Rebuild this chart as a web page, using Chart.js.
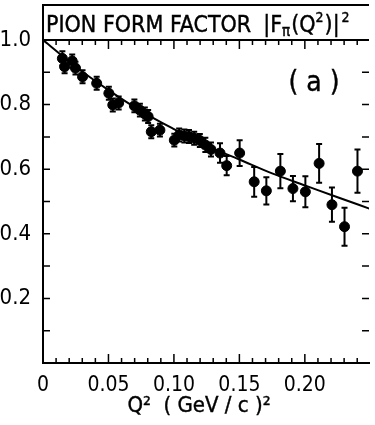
<!DOCTYPE html>
<html>
<head>
<meta charset="utf-8">
<script src="https://cdn.jsdelivr.net/npm/chart.js@4.4.1/dist/chart.umd.min.js"></script>
<style>
  body { margin: 0; background: #fff; }
  canvas { display: block; }
</style>
</head>
<body>
<canvas id="chart" width="375" height="425"></canvas>
<script>
const q2 = [0.0148, 0.0165, 0.0223, 0.0248, 0.0302, 0.041, 0.0503, 0.0533, 0.0578,
  0.0698, 0.074, 0.0778, 0.0803, 0.0827, 0.0893, 0.1003, 0.104, 0.108, 0.1115,
  0.1155, 0.1198, 0.124, 0.1283, 0.1352, 0.1403, 0.1502, 0.1613, 0.1706, 0.1813,
  0.1909, 0.2004, 0.2109, 0.2207, 0.2303, 0.2402];
const ff = [0.943, 0.917, 0.935, 0.913, 0.886, 0.866, 0.835, 0.799, 0.805,
  0.796, 0.783, 0.771, 0.763, 0.716, 0.721, 0.69, 0.706, 0.703, 0.701,
  0.696, 0.689, 0.675, 0.661, 0.65, 0.611, 0.65, 0.561, 0.533, 0.594,
  0.54, 0.53, 0.618, 0.49, 0.422, 0.594];
const ffErr = [0.022, 0.02, 0.02, 0.02, 0.02, 0.02, 0.02, 0.02, 0.02,
  0.02, 0.02, 0.02, 0.02, 0.02, 0.02, 0.02, 0.02, 0.02, 0.02,
  0.02, 0.02, 0.022, 0.022, 0.03, 0.03, 0.04, 0.046, 0.042, 0.053,
  0.039, 0.048, 0.06, 0.053, 0.059, 0.067];

// fitted curve
const fitQ2 = [0, 0.025, 0.05, 0.075, 0.1, 0.125, 0.15, 0.175, 0.2, 0.225, 0.25];
const fitFF = [1.0, 0.917, 0.845, 0.78, 0.724, 0.672, 0.63, 0.587, 0.55, 0.513, 0.477];

const xTicks = [0, 0.05, 0.1, 0.15, 0.2];
const yTicks = [0.2, 0.4, 0.6, 0.8, 1.0];

const FONT = "'DejaVu Sans Condensed', 'DejaVu Sans', sans-serif";

const errorBars = {
  id: 'errorBars',
  afterDatasetsDraw(chart) {
    const ctx = chart.ctx;
    const y = chart.scales.y;
    const meta = chart.getDatasetMeta(1);
    ctx.save();
    ctx.strokeStyle = '#000';
    ctx.lineWidth = 2;
    meta.data.forEach((pt, i) => {
      const top = y.getPixelForValue(ff[i] + ffErr[i]);
      const bot = y.getPixelForValue(ff[i] - ffErr[i]);
      ctx.beginPath();
      ctx.moveTo(pt.x, top);
      ctx.lineTo(pt.x, bot);
      ctx.moveTo(pt.x - 3, top);
      ctx.lineTo(pt.x + 3, top);
      ctx.moveTo(pt.x - 3, bot);
      ctx.lineTo(pt.x + 3, bot);
      ctx.stroke();
    });
    ctx.restore();
  }
};

const frame = {
  id: 'frame',
  afterDraw(chart) {
    const ctx = chart.ctx;
    const a = chart.chartArea;
    const x = chart.scales.x;
    const y = chart.scales.y;
    ctx.save();
    ctx.strokeStyle = '#000';
    ctx.lineWidth = 2;
    // top axis + title box
    ctx.beginPath();
    ctx.moveTo(a.left, a.top);
    ctx.lineTo(a.right, a.top);
    ctx.moveTo(a.left, a.top);
    ctx.lineTo(a.left, 5);
    ctx.lineTo(a.right, 5);
    ctx.stroke();

    // inward ticks
    ctx.lineWidth = 1.5;
    ctx.beginPath();
    for (let i = 0; i <= 25; i++) {
      const px = x.getPixelForValue(i / 100);
      if (px > a.right) continue;
      const len = i % 5 === 0 ? 9 : 5;
      ctx.moveTo(px, a.bottom);
      ctx.lineTo(px, a.bottom - len);
      ctx.moveTo(px, a.top);
      ctx.lineTo(px, a.top + len);
    }
    for (let i = 1; i < 10; i++) {
      const py = y.getPixelForValue(i / 10);
      ctx.moveTo(a.left, py);
      ctx.lineTo(a.left + 7, py);
      ctx.moveTo(a.right, py);
      ctx.lineTo(a.right - 7, py);
    }
    ctx.stroke();

    // title in box
    ctx.fillStyle = '#000';
    ctx.strokeStyle = '#000';
    ctx.lineWidth = 0.4;
    ctx.textBaseline = 'alphabetic';
    ctx.textAlign = 'left';
    let tx = 46;
    const parts = [
      ['PION FORM FACTOR', 23, 32, 12],
      ['|F', 23, 32, 0],
      ['\u03c0', 15, 36, 1],
      ['(Q', 23, 32, 0],
      ['2', 14, 22, 1],
      [')|', 23, 32, 2],
      ['2', 14, 22, 0]
    ];
    parts.forEach(p => {
      ctx.font = p[1] + 'px ' + FONT;
      ctx.fillText(p[0], tx, p[2]);
      ctx.strokeText(p[0], tx, p[2]);
      tx += ctx.measureText(p[0]).width + p[3];
    });

    // panel label
    ctx.font = '28px ' + FONT;
    ctx.textAlign = 'center';
    ctx.fillText('( a )', 314, 91);
    ctx.strokeText('( a )', 314, 91);

    // x axis title
    ctx.font = '22px ' + FONT;
    ctx.fillText('Q\u00b2  ( GeV / c )\u00b2', 199, 412);
    ctx.strokeText('Q\u00b2  ( GeV / c )\u00b2', 199, 412);
    ctx.restore();
  }
};

new Chart(document.getElementById('chart'), {
  type: 'scatter',
  data: {
    datasets: [
      {
        type: 'line',
        data: fitQ2.map((v, i) => ({x: v, y: fitFF[i]})),
        borderColor: '#000',
        borderWidth: 2,
        pointRadius: 0,
        cubicInterpolationMode: 'monotone',
        fill: false
      },
      {
        data: q2.map((v, i) => ({x: v, y: ff[i]})),
        backgroundColor: '#000',
        borderColor: '#000',
        pointRadius: 5
      }
    ]
  },
  options: {
    responsive: false,
    animation: false,
    layout: {padding: {top: 40, right: 0, left: 0, bottom: 0}},
    plugins: {legend: {display: false}, tooltip: {enabled: false}},
    scales: {
      x: {
        type: 'linear',
        min: 0,
        max: 0.249,
        afterBuildTicks: s => { s.ticks = xTicks.map(v => ({value: v})); },
        afterFit: s => { s.height = 62; },
        grid: {display: false},
        border: {color: '#000', width: 2},
        ticks: {
          color: '#000',
          font: {family: FONT, size: 21},
          padding: 2,
          maxRotation: 0,
          autoSkip: false,
          callback: v => v === 0 ? '0' : v.toFixed(2)
        }
      },
      y: {
        min: 0,
        max: 1,
        afterBuildTicks: s => { s.ticks = yTicks.map(v => ({value: v})); },
        afterFit: s => { s.width = 43; },
        grid: {display: false},
        border: {color: '#000', width: 2},
        ticks: {
          color: '#000',
          font: {family: FONT, size: 22},
          padding: 4,
          autoSkip: false,
          callback: v => v.toFixed(1)
        }
      }
    }
  },
  plugins: [errorBars, frame]
});
</script>
</body>
</html>
